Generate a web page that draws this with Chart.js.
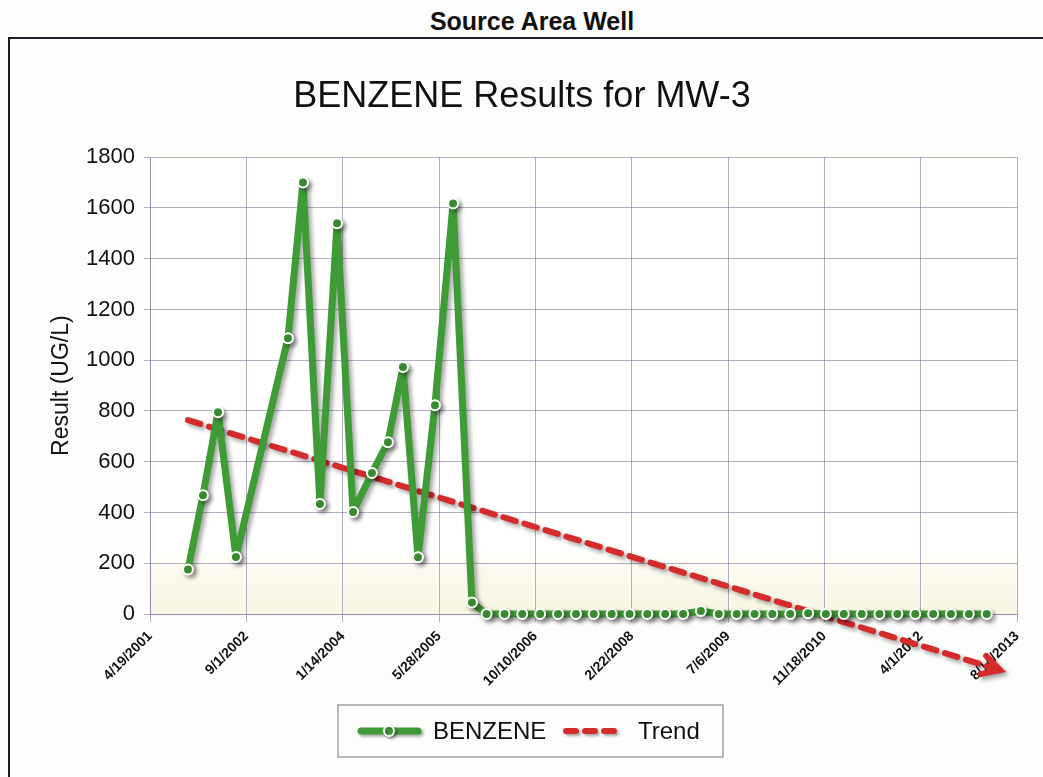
<!DOCTYPE html>
<html>
<head>
<meta charset="utf-8">
<script src="https://cdn.jsdelivr.net/npm/chart.js"></script>
<style>
  body { margin: 0; background: #fff; font-family: "Liberation Sans", Arial, sans-serif; }
  #page { position: relative; width: 1043px; height: 777px; overflow: hidden; background: #fdfdfc; }
  #pageTitle { position: absolute; left: 0; top: 7px; width: 1064px; text-align: center; font-weight: bold; font-size: 25px; color: #111; }
  #frame { position: absolute; left: 8px; top: 37px; width: 1100px; height: 800px; border: 2px solid #1c1c28; }
  #chartBox { position: absolute; left: 27px; top: 0; width: 1016px; height: 777px; }
</style>
</head>
<body>
<div id="page">
  <div id="pageTitle">Source Area Well</div>
  <div id="frame"></div>
  <div id="chartBox"><canvas id="chart" width="1016" height="777"></canvas></div>
</div>
<script>
// sample dates and results (UG/L)
var sampleDates = [
  '11/2/2001', '1/19/2002', '4/7/2002', '7/9/2002', '4/5/2003', '6/22/2003', '9/18/2003', '12/16/2003',
  '3/8/2004', '6/14/2004', '9/5/2004', '11/22/2004', '2/8/2005', '5/7/2005', '8/9/2005', '11/15/2005',
  '1/30/2006', '5/3/2006', '8/3/2006', '11/4/2006', '2/5/2007', '5/9/2007', '8/9/2007', '11/10/2007',
  '2/11/2008', '5/13/2008', '8/14/2008', '11/15/2008', '2/15/2009', '5/19/2009', '8/20/2009', '11/21/2009',
  '2/21/2010', '5/25/2010', '8/26/2010', '11/26/2010', '2/27/2011', '5/31/2011', '8/31/2011', '12/2/2011',
  '3/4/2012', '6/5/2012', '9/5/2012', '12/7/2012', '3/10/2013'
];
var benzene = [
  175, 468, 795, 225, 1087, 1700, 433, 1540,
  402, 556, 677, 973, 224, 823, 1618, 45,
  0, 0, 0, 0, 0, 0, 0, 0,
  0, 0, 0, 0, 12, 0, 0, 0,
  0, 0, 3, 0, 0, 0, 0, 0,
  0, 0, 0, 0, 0
];
var trendDates = ['11/2/2001', '3/10/2013'];
var trendValues = [764, -205];
var xTickDates = ['4/19/2001', '9/1/2002', '1/14/2004', '5/28/2005', '10/10/2006', '2/22/2008', '7/6/2009', '11/18/2010', '4/1/2012', '8/14/2013'];
var yMin = 0, yMax = 1800, yStep = 200;

var green = '#3f9b35';
var red = '#d42b2b';
var gridColor = 'rgba(120,110,150,0.55)';
var fontFamily = '"Liberation Sans", Arial, sans-serif';

// days since the first axis date
function toDays(s) {
  var p = s.split('/').map(Number);
  var b = xTickDates[0].split('/').map(Number);
  return Math.round((Date.UTC(p[2], p[0] - 1, p[1]) - Date.UTC(b[2], b[0] - 1, b[1])) / 86400000);
}

var benzenePoints = sampleDates.map(function(d, i) { return { x: toDays(d), y: benzene[i] }; });
var trendPoints = trendDates.map(function(d, i) { return { x: toDays(d), y: trendValues[i] }; });

// pale band at the bottom of the plot
var plotBackground = {
  id: 'plotBackground',
  beforeDraw: function(chart) {
    var a = chart.chartArea, ctx = chart.ctx;
    var g = ctx.createLinearGradient(0, a.top, 0, a.bottom);
    g.addColorStop(0, '#ffffff');
    g.addColorStop(0.86, '#ffffff');
    g.addColorStop(0.9, '#fcfaf0');
    g.addColorStop(1, '#f9f6e4');
    ctx.save();
    ctx.fillStyle = g;
    ctx.fillRect(a.left, a.top, a.right - a.left, a.bottom - a.top);
    ctx.restore();
  }
};

// soft drop shadow under the lines
var lineShadow = {
  id: 'lineShadow',
  beforeDatasetDraw: function(chart) {
    var ctx = chart.ctx;
    ctx.save();
    ctx.shadowColor = 'rgba(0,0,0,0.35)';
    ctx.shadowBlur = 4;
    ctx.shadowOffsetX = 3;
    ctx.shadowOffsetY = 3;
  },
  afterDatasetDraw: function(chart) {
    chart.ctx.restore();
  }
};

// arrow head at the end of the trend
var trendArrow = {
  id: 'trendArrow',
  afterDatasetsDraw: function(chart) {
    var pts = chart.getDatasetMeta(1).data;
    if (pts.length < 2) return;
    var a = pts[pts.length - 2], b = pts[pts.length - 1];
    var ang = Math.atan2(b.y - a.y, b.x - a.x);
    var tipX = b.x + Math.cos(ang) * 14, tipY = b.y + Math.sin(ang) * 14;
    var ctx = chart.ctx;
    ctx.save();
    ctx.shadowColor = 'rgba(0,0,0,0.35)';
    ctx.shadowBlur = 4;
    ctx.shadowOffsetX = 3;
    ctx.shadowOffsetY = 3;
    ctx.strokeStyle = red;
    ctx.lineWidth = 6;
    ctx.lineCap = 'round';
    ctx.beginPath();
    ctx.moveTo(b.x, b.y);
    ctx.lineTo(tipX, tipY);
    ctx.moveTo(tipX - Math.cos(ang - 0.5) * 20, tipY - Math.sin(ang - 0.5) * 20);
    ctx.lineTo(tipX, tipY);
    ctx.lineTo(tipX - Math.cos(ang + 0.5) * 20, tipY - Math.sin(ang + 0.5) * 20);
    ctx.stroke();
    ctx.restore();
  }
};

// boxed legend under the axis
var boxLegend = {
  id: 'boxLegend',
  afterDraw: function(chart) {
    var ctx = chart.ctx;
    var left = 311, top = 705, w = 385, h = 52, cy = top + h / 2;
    ctx.save();
    ctx.strokeStyle = '#a0a0a0';
    ctx.lineWidth = 1.5;
    ctx.strokeRect(left, top, w, h);

    ctx.shadowColor = 'rgba(0,0,0,0.35)';
    ctx.shadowBlur = 3;
    ctx.shadowOffsetX = 2;
    ctx.shadowOffsetY = 2;
    ctx.lineCap = 'round';
    ctx.strokeStyle = green;
    ctx.lineWidth = 7;
    ctx.beginPath();
    ctx.moveTo(left + 23, cy);
    ctx.lineTo(left + 80, cy);
    ctx.stroke();
    ctx.beginPath();
    ctx.arc(left + 51, cy, 5, 0, Math.PI * 2);
    ctx.fillStyle = green;
    ctx.fill();
    ctx.strokeStyle = '#fff';
    ctx.lineWidth = 2;
    ctx.stroke();

    ctx.strokeStyle = red;
    ctx.lineWidth = 6;
    ctx.setLineDash([10, 9]);
    ctx.beginPath();
    ctx.moveTo(left + 228, cy);
    ctx.lineTo(left + 284, cy);
    ctx.stroke();
    ctx.setLineDash([]);

    ctx.shadowColor = 'transparent';
    ctx.fillStyle = '#111';
    ctx.font = '24px ' + fontFamily;
    ctx.textBaseline = 'middle';
    ctx.textAlign = 'left';
    ctx.fillText(chart.data.datasets[0].label, left + 95, cy + 1);
    ctx.fillText(chart.data.datasets[1].label, left + 300, cy + 1);
    ctx.restore();
  }
};

var ctx = document.getElementById('chart').getContext('2d');
new Chart(ctx, {
  type: 'line',
  data: {
    datasets: [
      {
        label: 'BENZENE',
        data: benzenePoints,
        borderColor: green,
        backgroundColor: green,
        borderWidth: 7,
        borderJoinStyle: 'round',
        pointRadius: 5,
        pointBorderWidth: 2,
        pointBorderColor: '#ffffff',
        pointBackgroundColor: green,
        tension: 0,
        clip: false
      },
      {
        label: 'Trend',
        data: trendPoints,
        borderColor: red,
        backgroundColor: red,
        borderWidth: 6,
        borderDash: [13, 9],
        borderCapStyle: 'round',
        pointRadius: 0,
        tension: 0,
        clip: false
      }
    ]
  },
  options: {
    responsive: false,
    animation: false,
    layout: { padding: { left: 0, right: 26, top: 0, bottom: 0 } },
    plugins: {
      legend: { display: false },
      tooltip: { enabled: false },
      title: {
        display: true,
        text: 'BENZENE Results for MW-3',
        color: '#111',
        font: { family: fontFamily, size: 36, weight: 'normal' },
        padding: { top: 75, bottom: 39 }
      }
    },
    scales: {
      x: {
        type: 'linear',
        min: toDays(xTickDates[0]),
        max: toDays(xTickDates[xTickDates.length - 1]),
        afterBuildTicks: function(scale) {
          scale.ticks = xTickDates.map(function(d) { return { value: toDays(d) }; });
        },
        afterFit: function(scale) { scale.height = 163; },
        ticks: {
          autoSkip: false,
          minRotation: 45,
          maxRotation: 45,
          padding: 6,
          color: '#111',
          font: { family: fontFamily, size: 14, weight: 'bold' },
          callback: function(v, i) { return xTickDates[i]; }
        },
        grid: { color: gridColor, tickLength: 8 },
        border: { color: gridColor }
      },
      y: {
        min: yMin,
        max: yMax,
        afterFit: function(scale) { scale.width = 123; },
        ticks: {
          stepSize: yStep,
          padding: 9,
          color: '#111',
          font: { family: fontFamily, size: 22 },
          callback: function(v) { return String(v); }
        },
        grid: { color: gridColor, tickLength: 6 },
        border: { color: gridColor },
        title: {
          display: true,
          text: 'Result (UG/L)',
          color: '#111',
          font: { family: fontFamily, size: 23 },
          padding: { top: 21, bottom: 0 }
        }
      }
    }
  },
  plugins: [plotBackground, lineShadow, trendArrow, boxLegend]
});
</script>
</body>
</html>
